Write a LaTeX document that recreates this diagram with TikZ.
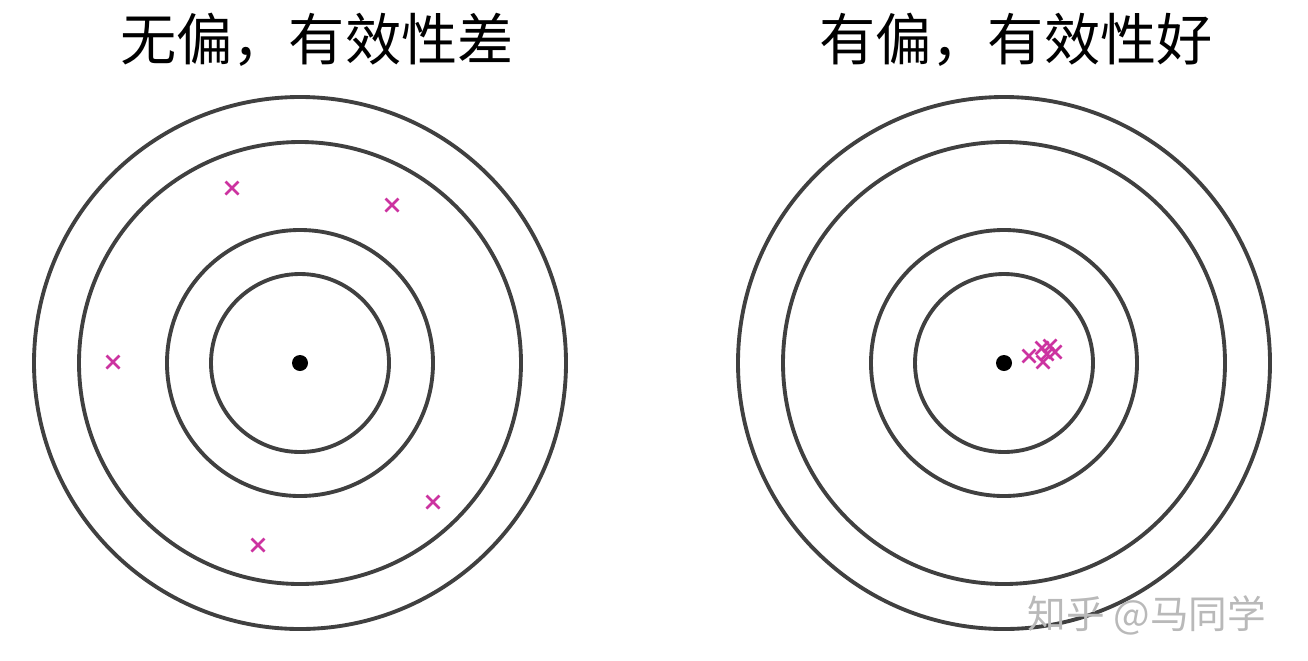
\documentclass[tikz,border=0pt]{standalone}
\usepackage{fontspec}
\newfontfamily\cjk{Noto Sans CJK SC}
\usepackage{tikz}
\usetikzlibrary{positioning}

\definecolor{ringgray}{RGB}{64,64,64}
\definecolor{hitpink}{RGB}{204,51,160}

\tikzset{
  ring/.style={draw=ringgray, line width=2.2pt},
  hit/.style={draw=hitpink, line width=1.5pt},
  title/.style={font=\cjk\fontsize{32}{36}\selectfont, inner sep=0pt},
}

\begin{document}
\begin{tikzpicture}[x=0.02cm, y=-0.02cm]
  \useasboundingbox (0,0) rectangle (1308,660);
  % left target
  \coordinate (lc) at (300,363);
  \foreach \r in {266,221,133,89}
    \draw[ring] (lc) circle (\r);
  \fill (lc) circle (8);
  \foreach \cx/\cy in {232/188, 392/205, 113/362, 433/502, 258/545}
    \draw[hit] (\cx-6.5,\cy-6.5) -- (\cx+6.5,\cy+6.5) (\cx-6.5,\cy+6.5) -- (\cx+6.5,\cy-6.5);
  % right target
  \coordinate (rc) at (1004,363);
  \foreach \r in {266,221,133,89}
    \draw[ring] (rc) circle (\r);
  \fill (rc) circle (8);
  \foreach \cx/\cy in {1029/356, 1042/348, 1050/346, 1055/352, 1043/362, 1047/354}
    \draw[hit] (\cx-6.5,\cy-6.5) -- (\cx+6.5,\cy+6.5) (\cx-6.5,\cy+6.5) -- (\cx+6.5,\cy-6.5);
  % labels
  \node[title] (ltitle) at (317,40) {无偏，有效性差};
  \node[title] (rtitle) at (1016,40) {有偏，有效性好};
  \node[font=\cjk\fontsize{22}{26}\selectfont, text=gray!55, inner sep=0pt] (mark) at (1147,615) {知乎 @马同学};
\end{tikzpicture}
\end{document}
